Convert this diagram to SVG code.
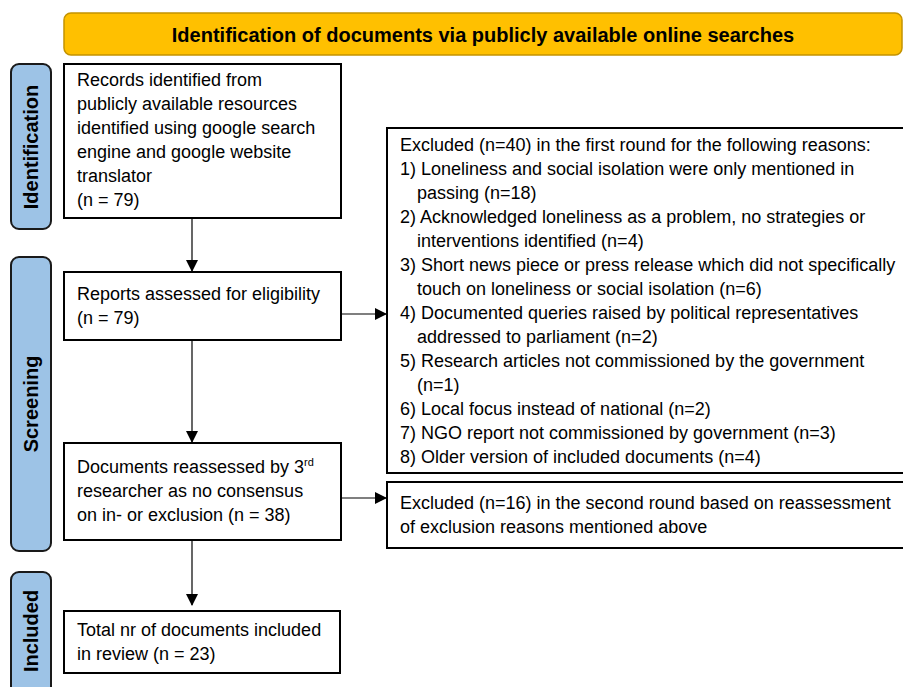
<svg xmlns="http://www.w3.org/2000/svg" width="903" height="687" viewBox="0 0 903 687">
<style>
.box{fill:#fff;stroke:#000;stroke-width:2}
.side{fill:#9DC3E6;stroke:#1a1a1a;stroke-width:2}
.t{font-family:"Liberation Sans",Arial,sans-serif;font-size:18px;fill:#000}
.sl{font-family:"Liberation Sans",Arial,sans-serif;font-size:20px;font-weight:bold;fill:#000;text-anchor:middle}
.hd{font-family:"Liberation Sans",Arial,sans-serif;font-size:20px;font-weight:bold;fill:#000;text-anchor:middle}
.c{stroke:#000;stroke-width:1.2;fill:none}
</style>
<defs>
<marker id="ah" markerWidth="12" markerHeight="12" refX="11" refY="6" orient="auto" markerUnits="userSpaceOnUse">
<path d="M0,0 L12,6 L0,12 Z" fill="#000"/>
</marker>
</defs>
<rect width="903" height="687" fill="#fff"/>
<g id="header">
<rect x="64" y="13" width="838" height="42" rx="7" fill="#FFC000" stroke="#C49300" stroke-width="1.5"/>
<text class="hd" x="483" y="41.5">Identification of documents via publicly available online searches</text>
</g>
<g id="label-identification">
<rect class="side" x="11" y="64" width="40" height="165" rx="8"/>
<text class="sl" transform="translate(38,147) rotate(-90)">Identification</text>
</g>
<g id="label-screening">
<rect class="side" x="11" y="257" width="40" height="294" rx="8"/>
<text class="sl" transform="translate(38,404) rotate(-90)">Screening</text>
</g>
<g id="label-included">
<rect class="side" x="11" y="572" width="40" height="130" rx="8"/>
<text class="sl" transform="translate(38,631) rotate(-90)">Included</text>
</g>
<g id="records">
<rect class="box" x="64" y="64" width="277" height="154"/>
<text class="t" x="77" y="86">Records identified from</text>
<text class="t" x="77" y="110">publicly available resources</text>
<text class="t" x="77" y="134">identified using google search</text>
<text class="t" x="77" y="158">engine and google website</text>
<text class="t" x="77" y="182">translator</text>
<text class="t" x="77" y="206">(n = 79)</text>
</g>
<g id="reports">
<rect class="box" x="64" y="272" width="277" height="68"/>
<text class="t" x="77" y="300">Reports assessed for eligibility</text>
<text class="t" x="77" y="324">(n = 79)</text>
</g>
<g id="reassessed">
<rect class="box" x="64" y="443" width="277" height="97"/>
<text class="t" x="77" y="473">Documents reassessed by 3<tspan font-size="11" dy="-7">rd</tspan></text>
<text class="t" x="77" y="497">researcher as no consensus</text>
<text class="t" x="77" y="521">on in- or exclusion (n = 38)</text>
</g>
<g id="included">
<rect class="box" x="64" y="611" width="276" height="62"/>
<text class="t" x="77" y="636">Total nr of documents included</text>
<text class="t" x="77" y="660">in review (n = 23)</text>
</g>
<g id="excluded1">
<rect class="box" x="387" y="128" width="530" height="345"/>
<text class="t" x="400" y="151">Excluded (n=40) in the first round for the following reasons:</text>
<text class="t" x="400" y="175">1) Loneliness and social isolation were only mentioned in</text>
<text class="t" x="417" y="199">passing (n=18)</text>
<text class="t" x="400" y="223">2) Acknowledged loneliness as a problem, no strategies or</text>
<text class="t" x="417" y="247">interventions identified (n=4)</text>
<text class="t" x="400" y="271">3) Short news piece or press release which did not specifically</text>
<text class="t" x="417" y="295">touch on loneliness or social isolation (n=6)</text>
<text class="t" x="400" y="319">4) Documented queries raised by political representatives</text>
<text class="t" x="417" y="343">addressed to parliament (n=2)</text>
<text class="t" x="400" y="367">5) Research articles not commissioned by the government</text>
<text class="t" x="417" y="391">(n=1)</text>
<text class="t" x="400" y="415">6) Local focus instead of national (n=2)</text>
<text class="t" x="400" y="439">7) NGO report not commissioned by government (n=3)</text>
<text class="t" x="400" y="463">8) Older version of included documents (n=4)</text>
</g>
<g id="excluded2">
<rect class="box" x="387" y="482" width="530" height="66"/>
<text class="t" x="400" y="509">Excluded (n=16) in the second round based on reassessment</text>
<text class="t" x="400" y="533">of exclusion reasons mentioned above</text>
</g>
<g id="connectors">
<line class="c" x1="192" y1="218" x2="192" y2="271" marker-end="url(#ah)"/>
<line class="c" x1="192" y1="340" x2="192" y2="442" marker-end="url(#ah)"/>
<line class="c" x1="192" y1="540" x2="192" y2="605" marker-end="url(#ah)"/>
<line class="c" x1="341" y1="314" x2="386" y2="314" marker-end="url(#ah)"/>
<line class="c" x1="341" y1="498" x2="386" y2="498" marker-end="url(#ah)"/>
</g>
</svg>
